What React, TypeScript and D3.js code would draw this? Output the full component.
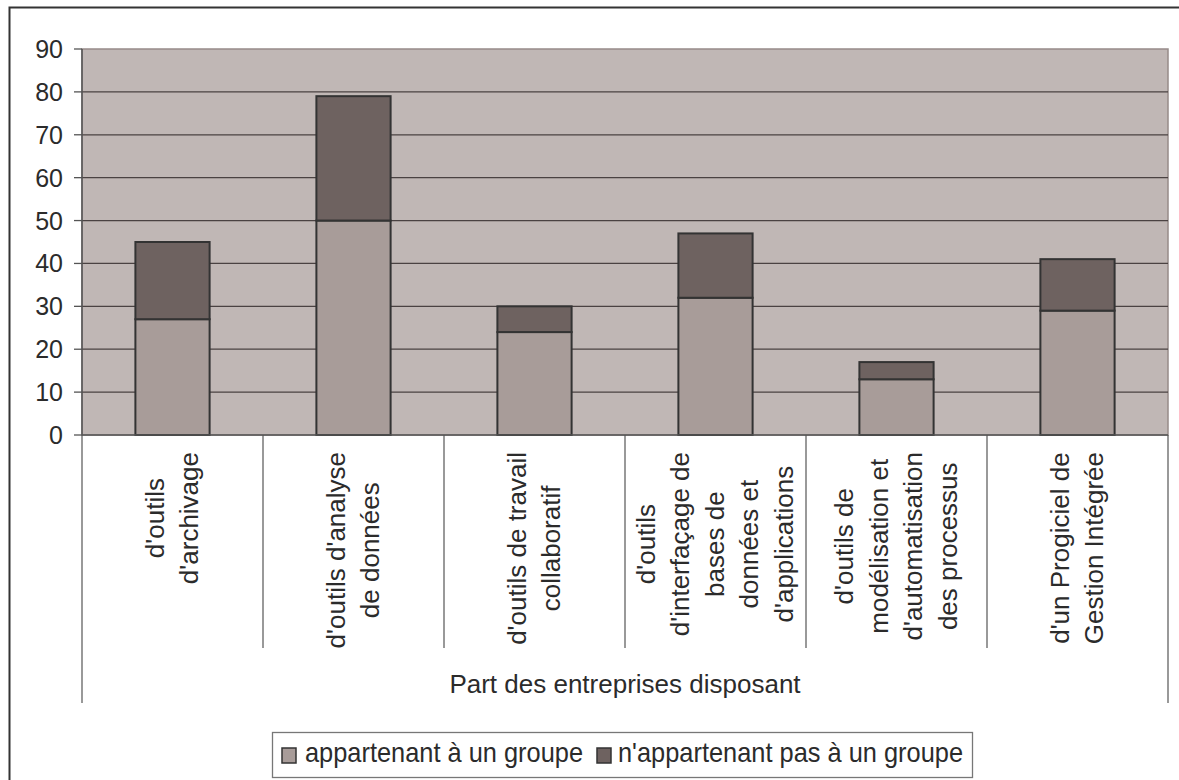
import { useEffect, useRef } from 'react'
import * as d3 from 'd3'

// category labels, one entry per line of the rotated label
const categories = [
  ["d'outils", "d'archivage"],
  ["d'outils d'analyse", 'de données'],
  ["d'outils de travail", 'collaboratif'],
  ["d'outils", "d'interfaçage de", 'bases de', 'données et', "d'applications"],
  ["d'outils de", 'modélisation et', "d'automatisation", 'des processus'],
  ["d'un Progiciel de", 'Gestion Intégrée']
]
const groupLabel = 'Part des entreprises disposant'
const seriesNames = ['appartenant à un groupe', "n'appartenant pas à un groupe"]
const inGroup = [27, 50, 24, 32, 13, 29]
const notInGroup = [18, 29, 6, 15, 4, 12]
const yTicks = [0, 10, 20, 30, 40, 50, 60, 70, 80, 90]

const W = 1179
const H = 780
const FONT = '"Liberation Sans", Arial, sans-serif'
const colors = ['#A89C99', '#6E6260']

export default function App() {
  const svgRef = useRef<SVGSVGElement>(null)

  useEffect(() => {
    if (!svgRef.current) return
    const svg = d3.select(svgRef.current)
    svg.selectAll('*').remove()

    const left = 82
    const right = 1168
    const top = 49
    const bottom = 435

    const x = d3.scaleBand<number>()
      .domain(d3.range(categories.length))
      .range([left, right])
      .paddingInner(0.59)
      .paddingOuter(0.295)
    const y = d3.scaleLinear([0, 90], [bottom, top])
    const step = x.step()
    const catStart = (i: number) => left + i * step

    svg.append('rect').attr('width', W).attr('height', H).attr('fill', '#fff')

    // outer chart frame (runs off the picture at right and bottom)
    svg.append('rect')
      .attr('x', 9.5).attr('y', 7.5).attr('width', 1200).attr('height', 800)
      .attr('fill', 'none').attr('stroke', '#333').attr('stroke-width', 2)

    // plot area
    svg.append('rect')
      .attr('x', left).attr('y', top).attr('width', right - left).attr('height', bottom - top)
      .attr('fill', '#C0B7B5').attr('stroke', '#978B89').attr('stroke-width', 1.5)

    svg.append('g')
      .selectAll('line')
      .data(yTicks.filter(t => t > 0 && t < 90))
      .join('line')
      .attr('x1', left).attr('x2', right)
      .attr('y1', d => y(d)).attr('y2', d => y(d))
      .attr('stroke', '#4A4242').attr('stroke-width', 1.3)

    // stacked bars
    const stackData = categories.map((_, i) => ({ a: inGroup[i], b: notInGroup[i] }))
    const layers = d3.stack<any>().keys(['a', 'b'])(stackData)
    svg.append('g')
      .selectAll('g')
      .data(layers)
      .join('g')
      .attr('fill', (_, i) => colors[i])
      .selectAll('rect')
      .data(d => d.map((v, i) => ({ v, i })))
      .join('rect')
      .attr('x', d => x(d.i)!)
      .attr('width', x.bandwidth())
      .attr('y', d => y(d.v[1]))
      .attr('height', d => y(d.v[0]) - y(d.v[1]))
      .attr('stroke', '#333').attr('stroke-width', 2)

    // y axis
    svg.append('line')
      .attr('x1', left).attr('x2', left).attr('y1', top).attr('y2', bottom)
      .attr('stroke', '#555').attr('stroke-width', 1.5)
    const yt = svg.append('g')
    yt.selectAll('line')
      .data(yTicks)
      .join('line')
      .attr('x1', left - 8).attr('x2', left)
      .attr('y1', d => y(d)).attr('y2', d => y(d))
      .attr('stroke', '#555').attr('stroke-width', 1.3)
    yt.selectAll('text')
      .data(yTicks)
      .join('text')
      .attr('x', 63).attr('y', d => y(d)).attr('dy', '0.36em')
      .attr('text-anchor', 'end')
      .attr('font-family', FONT).attr('font-size', 25).attr('fill', '#2b2b2b')
      .text(d => d)

    // x axis and category boxes
    svg.append('line')
      .attr('x1', left).attr('x2', right).attr('y1', bottom).attr('y2', bottom)
      .attr('stroke', '#555').attr('stroke-width', 1.5)
    svg.append('g')
      .selectAll('line')
      .data(d3.range(1, categories.length))
      .join('line')
      .attr('x1', i => catStart(i)).attr('x2', i => catStart(i))
      .attr('y1', bottom).attr('y2', 648)
      .attr('stroke', '#555').attr('stroke-width', 1.2)
    svg.append('g')
      .selectAll('line')
      .data([left, right])
      .join('line')
      .attr('x1', d => d).attr('x2', d => d)
      .attr('y1', bottom).attr('y2', 703)
      .attr('stroke', '#555').attr('stroke-width', 1.2)

    // rotated category labels, lines centred on each other, longest line starting under the axis
    const lineGap = 34.5
    const labelTop = 452
    categories.forEach((lines, i) => {
      const cx = catStart(i) + step / 2 - 1
      const g = svg.append('g')
      const texts = g.selectAll('text')
        .data(lines)
        .join('text')
        .attr('text-anchor', 'middle')
        .attr('dy', '0.36em')
        .attr('font-family', FONT).attr('font-size', 26).attr('fill', '#2b2b2b')
        .text(d => d)
      let maxLen = 0
      texts.each(function () {
        maxLen = Math.max(maxLen, (this as SVGTextElement).getComputedTextLength())
      })
      const cy = labelTop + maxLen / 2
      texts.attr('transform', (_, j) => {
        const lx = cx + (j - (lines.length - 1) / 2) * lineGap
        return `translate(${lx},${cy}) rotate(-90)`
      })
    })

    svg.append('text')
      .attr('x', (left + right) / 2).attr('y', 693)
      .attr('text-anchor', 'middle')
      .attr('font-family', FONT).attr('font-size', 26).attr('fill', '#2b2b2b')
      .text(groupLabel)

    // legend
    const lg = svg.append('g')
    lg.append('rect')
      .attr('x', 272.5).attr('y', 732.5).attr('width', 700).attr('height', 45)
      .attr('fill', '#fff').attr('stroke', '#777').attr('stroke-width', 1.3)
    const items = [
      { sx: 282, tx: 305, len: 278 },
      { sx: 597, tx: 618, len: 345 }
    ]
    items.forEach((it, i) => {
      lg.append('rect')
        .attr('x', it.sx).attr('y', 748).attr('width', 14).attr('height', 15)
        .attr('fill', colors[i]).attr('stroke', '#333').attr('stroke-width', 1.5)
      lg.append('text')
        .attr('x', it.tx).attr('y', 762)
        .attr('font-family', FONT).attr('font-size', 28).attr('fill', '#2b2b2b')
        .attr('textLength', it.len).attr('lengthAdjust', 'spacingAndGlyphs')
        .text(seriesNames[i])
    })
  }, [])

  return (
    <svg
      ref={svgRef}
      width={W}
      height={H}
      style={{ position: 'absolute', left: 0, top: 0, display: 'block' }}
    />
  )
}
